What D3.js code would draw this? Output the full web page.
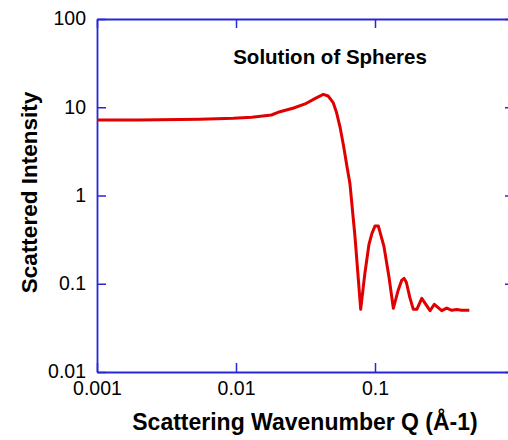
<!DOCTYPE html>
<html>
<head>
<meta charset="utf-8">
<script src="https://cdn.jsdelivr.net/npm/d3@7/dist/d3.min.js"></script>
<style>
  html, body { margin: 0; padding: 0; background: #fff; }
  svg { display: block; }
  text { font-family: "Liberation Sans", Arial, sans-serif; fill: #000; }
</style>
</head>
<body>
<div id="chart"></div>
<script>
// scattering wavenumber Q (1/A) and scattered intensity
var qValues = [0.001, 0.002, 0.0055, 0.0096, 0.013, 0.018, 0.0207, 0.026, 0.0314, 0.0375,
               0.0425, 0.046, 0.050, 0.053, 0.056, 0.0595, 0.0629, 0.066, 0.0718, 0.0789,
               0.0845, 0.0905, 0.095, 0.100, 0.1057, 0.116, 0.126, 0.1355, 0.147, 0.156,
               0.162, 0.168, 0.178, 0.1886, 0.200, 0.217, 0.249, 0.267, 0.302, 0.328,
               0.357, 0.387, 0.42, 0.477];
var intensity = [7.15, 7.15, 7.3, 7.5, 7.7, 8.17, 8.9, 9.8, 10.9, 12.7,
                 14.0, 13.4, 11.3, 8.6, 6.0, 3.6, 2.12, 1.37, 0.341, 0.0513,
                 0.13, 0.28, 0.37, 0.451, 0.45, 0.265, 0.12, 0.0527, 0.085, 0.11,
                 0.115, 0.104, 0.07, 0.0513, 0.0513, 0.0684, 0.0495, 0.0585, 0.0495, 0.053,
                 0.050, 0.051, 0.050, 0.050];

var xTicks = [0.001, 0.01, 0.1];
var xTickLabels = ["0.001", "0.01", "0.1"];
var yTicks = [0.01, 0.1, 1, 10, 100];
var yTickLabels = ["0.01", "0.1", "1", "10", "100"];

(function() {
    var width = 508, height = 440;
    var mLeft = 97, mRight = 514, mTop = 19, mBottom = 372;
    var axisColor = "#2727d8";

    var svg = d3.select("#chart").append("svg")
        .attr("width", width)
        .attr("height", height);

    var x = d3.scaleLog().domain([0.001, 1]).range([mLeft, mRight]);
    var y = d3.scaleLog().domain([0.01, 100]).range([mBottom, mTop]);

    // bottom axis (ticks point inward)
    var gx = svg.append("g")
        .attr("transform", "translate(0," + mBottom + ")")
        .call(d3.axisBottom(x).tickValues(xTicks)
            .tickFormat(function(d, i) { return xTickLabels[i]; })
            .tickSizeInner(-9).tickSizeOuter(0).tickPadding(9));

    var gy = svg.append("g")
        .attr("transform", "translate(" + mLeft + ",0)")
        .call(d3.axisLeft(y).tickValues(yTicks)
            .tickFormat(function(d, i) { return yTickLabels[i]; })
            .tickSizeInner(-9).tickSizeOuter(0).tickPadding(11));

    var gt = svg.append("g")
        .attr("transform", "translate(0," + mTop + ")")
        .call(d3.axisTop(x).tickValues(xTicks).tickFormat("")
            .tickSizeInner(-9).tickSizeOuter(0));

    var gr = svg.append("g")
        .attr("transform", "translate(" + mRight + ",0)")
        .call(d3.axisRight(y).tickValues(yTicks).tickFormat("")
            .tickSizeInner(-9).tickSizeOuter(0));

    [gx, gy, gt, gr].forEach(function(g) {
        g.select(".domain").attr("stroke", axisColor).attr("stroke-width", 1.8);
        g.selectAll(".tick line").attr("stroke", axisColor).attr("stroke-width", 1.5);
        g.selectAll(".tick text")
            .style("font-size", "19.5px")
            .style("font-family", "'Liberation Sans', Arial, sans-serif")
            .attr("fill", "#000");
    });
    gy.selectAll(".tick text").attr("dy", "0.3em");

    // curve
    var line = d3.line()
        .x(function(d, i) { return x(qValues[i]); })
        .y(function(d) { return y(d); });

    svg.append("path")
        .datum(intensity)
        .attr("d", line)
        .attr("fill", "none")
        .attr("stroke", "#e00000")
        .attr("stroke-width", 3)
        .attr("stroke-linejoin", "round");

    // titles
    svg.append("text")
        .attr("x", 330)
        .attr("y", 64)
        .attr("text-anchor", "middle")
        .style("font-size", "20.5px")
        .style("font-weight", "bold")
        .text("Solution of Spheres");

    svg.append("text")
        .attr("x", 305)
        .attr("y", 430)
        .attr("text-anchor", "middle")
        .style("font-size", "23px")
        .style("font-weight", "bold")
        .text("Scattering Wavenumber Q (Å-1)");

    svg.append("text")
        .attr("transform", "translate(37,192.5) rotate(-90)")
        .attr("text-anchor", "middle")
        .style("font-size", "22.5px")
        .style("font-weight", "bold")
        .text("Scattered Intensity");
})();
</script>
</body>
</html>
